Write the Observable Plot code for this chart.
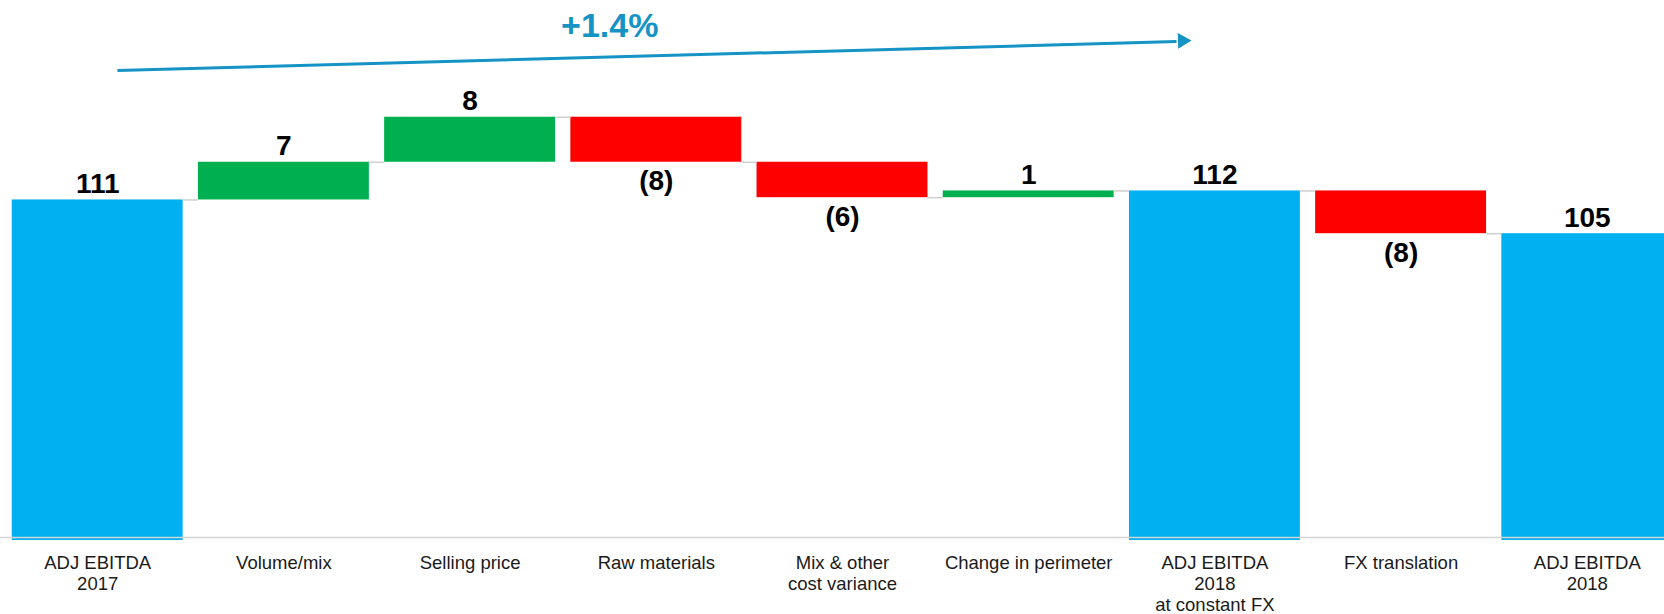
<!DOCTYPE html>
<html>
<head>
<meta charset="utf-8">
<script src="https://cdn.jsdelivr.net/npm/d3@7"></script>
<script src="https://cdn.jsdelivr.net/npm/@observablehq/plot@0.6"></script>
<style>
  html, body { margin: 0; padding: 0; background: #fff; overflow: hidden; }
  #chart svg { display: block; }
</style>
</head>
<body>
<div id="chart"></div>
<script>
// ---- data ----
const categories = [
  "ADJ EBITDA\n2017",
  "Volume/mix",
  "Selling price",
  "Raw materials",
  "Mix & other\ncost variance",
  "Change in perimeter",
  "ADJ EBITDA\n2018\nat constant FX",
  "FX translation",
  "ADJ EBITDA\n2018"
];
const values = [110.7, 6.7, 8.0, -8.0, -6.3, 1.2, 112.3, -7.6, 104.7];
const kinds  = ["total", "delta", "delta", "delta", "delta", "delta", "total", "delta", "total"];

// annotation (growth arrow from 2017 to 2018 at constant FX), in data units
const arrowFrom = {x: 0.106, y: 133.7};
const arrowTo   = {x: 5.869, y: 139.0};
const growthLabelAt = {x: 2.75, y: 139.7};

// ---- derived table ----
const yMin = 50.17, yMax = 146.15;
const half = 0.459;
let running = 0;
const rows = values.map((v, i) => {
  let start, end;
  if (kinds[i] === "total") { start = yMin; end = v; running = v; }
  else { start = running; end = running + v; running = end; }
  const color = kinds[i] === "total" ? "#00B0F0" : (v >= 0 ? "#00B050" : "#FF0000");
  const label = v < 0 ? `(${Math.round(-v)})` : `${Math.round(v)}`;
  return {i, cat: categories[i], v, kind: kinds[i], start, end, color, label,
          lo: Math.min(start, end), hi: Math.max(start, end), level: end};
});
const connectors = rows.slice(0, -1).map(r => ({x1: r.i + half, x2: r.i + 1 - half, y: r.level}));
const growth = values[6] / values[0] - 1;
const growthText = (growth >= 0 ? "+" : "") + (growth * 100).toFixed(1) + "%";

const teal = "#1493c4";
const font = "'Liberation Sans', Arial, Helvetica, sans-serif";

const chart = Plot.plot({
  width: 1664,
  height: 614,
  marginTop: 0,
  marginBottom: 74,
  marginLeft: 0,
  marginRight: 0,
  style: {fontFamily: font, overflow: "hidden", background: "#fff"},
  x: {domain: [0, 8], range: [97.2, 1586.8], axis: null},
  y: {domain: [yMin, yMax], axis: null},
  marks: [
    Plot.rectY(rows, {
      x1: d => d.i - half, x2: d => d.i + half,
      y1: "lo", y2: "hi", fill: "color"
    }),
    Plot.ruleY([yMin], {stroke: "#d3d3d3", strokeWidth: 1.5, dy: -3}),
    Plot.ruleY(connectors, {x1: "x1", x2: "x2", y: "y", stroke: "#d0d0d0", strokeWidth: 1.5}),
    // value labels above positive / total bars
    Plot.text(rows.filter(d => d.v >= 0), {
      x: "i", y: "hi", text: "label", lineAnchor: "bottom", dy: -7,
      fontSize: 28, fontWeight: "bold", fill: "#000"
    }),
    // value labels below negative bars
    Plot.text(rows.filter(d => d.v < 0), {
      x: "i", y: "lo", text: "label", lineAnchor: "top", dy: 8,
      fontSize: 28, fontWeight: "bold", fill: "#000"
    }),
    // category labels
    Plot.text(rows, {
      x: "i", text: "cat", frameAnchor: "bottom", lineAnchor: "top", dy: 14,
      fontSize: 18.5, lineHeight: 1.13, fill: "#1a1a1a"
    }),
    // growth arrow
    Plot.link([{x1: arrowFrom.x, y1: arrowFrom.y, x2: arrowTo.x - 0.075, y2: arrowTo.y - 0.15}], {
      x1: "x1", y1: "y1", x2: "x2", y2: "y2", stroke: teal, strokeWidth: 3
    }),
    Plot.dot([arrowTo], {
      x: "x", y: "y", symbol: "triangle", r: 5.8, fill: teal, stroke: "none",
      rotate: 88.4, dx: -8
    }),
    Plot.text([growthLabelAt], {
      x: "x", y: "y", text: () => growthText, lineAnchor: "bottom",
      fontSize: 34, fontWeight: "bold", fill: teal
    })
  ]
});
document.getElementById("chart").appendChild(chart);
</script>
</body>
</html>
